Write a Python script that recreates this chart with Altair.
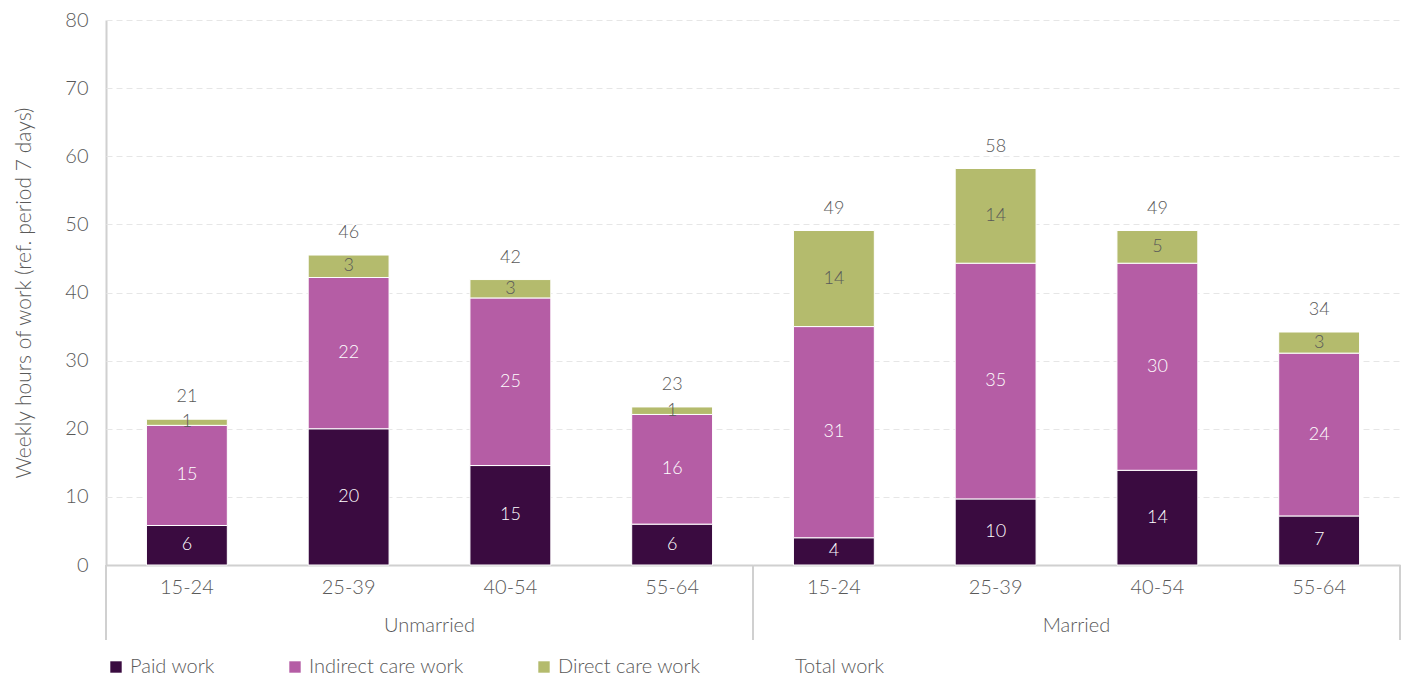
import altair as alt
import pandas as pd

groups = ["Unmarried"] * 4 + ["Married"] * 4
ages = ["15-24", "25-39", "40-54", "55-64"] * 2
paid = [5.8, 20.0, 14.6, 6.0, 4.0, 9.7, 13.9, 7.2]
indirect = [14.7, 22.2, 24.6, 16.1, 31.0, 34.6, 30.4, 23.9]
direct = [0.9, 3.3, 2.7, 1.1, 14.1, 13.9, 4.8, 3.1]

series = ["Paid work", "Indirect care work", "Direct care work"]
legend_items = series + ["Total work"]
colors = ["#3a0b40", "#b55da5", "#b4bb6d", "transparent"]
label_colors = ["#ffffff", "#ffffff", "#595959"]

rows = []
for i in range(len(groups)):
    for k, (s, vals) in enumerate(zip(series, [paid, indirect, direct])):
        rows.append({"group": groups[i], "age": ages[i], "series": s, "order": k,
                     "value": vals[i], "label": str(int(round(vals[i]))),
                     "tcolor": label_colors[k]})
df = pd.DataFrame(rows)

FONT = "Lato"
W, H = 647, 545
AGE_ORDER = ["15-24", "25-39", "40-54", "55-64"]

base = alt.Chart().transform_stack(
    stack="value", as_=["y0", "y1"], groupby=["group", "age"],
    sort=[alt.SortField("order", order="ascending")]
).transform_calculate(mid="(datum.y0 + datum.y1) / 2")

xenc = alt.X("age:N", title=None, sort=AGE_ORDER,
             scale=alt.Scale(paddingInner=0.5, paddingOuter=0.25),
             axis=alt.Axis(labelFontSize=20, labelColor="#595959", labelFont=FONT,
                           labelFontWeight=300, ticks=False, domainColor="#d0d0d0",
                           domainWidth=2, labelPadding=12, labelAngle=0))

bars = base.mark_bar(stroke="white", strokeWidth=1).encode(
    x=xenc,
    y=alt.Y("y0:Q", title="Weekly hours of work (ref. period 7 days)",
            scale=alt.Scale(domain=[0, 80]),
            axis=alt.Axis(values=list(range(0, 81, 10)), labelFontSize=20,
                          labelColor="#595959", labelFont=FONT, labelFontWeight=300,
                          titleFont=FONT, titleFontWeight=300, titleFontSize=21,
                          titleColor="#595959", ticks=False, domainColor="#d0d0d0",
                          domainWidth=2, gridColor="#e6e6e6", gridDash=[6, 4],
                          labelPadding=18, titlePadding=30)),
    y2="y1:Q",
    color=alt.Color("series:N", scale=alt.Scale(domain=legend_items, range=colors),
                    legend=alt.Legend(title=None, orient="bottom", direction="horizontal",
                                      labelFont=FONT, labelFontWeight=300,
                                      labelFontSize=20, labelColor="#595959",
                                      symbolType="square", symbolSize=130,
                                      symbolStrokeWidth=0, columnPadding=70,
                                      labelOffset=4, offset=16, padding=0,
                                      values=legend_items)),
)

seg_text = base.mark_text(font=FONT, fontWeight=300, fontSize=18, baseline="middle").encode(
    x=alt.X("age:N", sort=AGE_ORDER),
    y=alt.Y("mid:Q"),
    text="label:N",
    color=alt.Color("tcolor:N", scale=None),
)

totals = alt.Chart().transform_aggregate(
    total="sum(value)", groupby=["group", "age"]
).transform_calculate(tl="format(round(datum.total), 'd')").mark_text(
    font=FONT, fontWeight=300, fontSize=18, baseline="bottom", dy=-13, color="#595959"
).encode(
    x=alt.X("age:N", sort=AGE_ORDER),
    y=alt.Y("total:Q"),
    text="tl:N",
)

one = alt.Chart().transform_aggregate(n="count()", groupby=["group"])
rule_left = one.mark_rule(color="#d0d0d0", strokeWidth=2).encode(
    x=alt.value(0), y=alt.value(H), y2=alt.value(H + 75))
rule_right = one.mark_rule(color="#d0d0d0", strokeWidth=2).encode(
    x=alt.value(W), y=alt.value(H), y2=alt.value(H + 75))
group_label = one.mark_text(font=FONT, fontWeight=300, fontSize=20, color="#595959",
                            baseline="middle").encode(
    x=alt.value(W / 2), y=alt.value(H + 61), text="group:N")

layer = alt.layer(bars, seg_text, totals, rule_left, rule_right, group_label,
                  data=df).properties(width=W, height=H)

chart = layer.facet(
    column=alt.Column("group:N", sort=["Unmarried", "Married"], title=None,
                      header=alt.Header(labels=False)),
    spacing=0,
    bounds="flush",
).resolve_scale(x="independent").properties(
    padding={"left": 5, "top": 2, "right": 0, "bottom": 0}
).configure(font=FONT).configure_view(stroke=None, strokeWidth=0)

chart.save("out.html", embed_options={"renderer": "svg", "actions": False})
